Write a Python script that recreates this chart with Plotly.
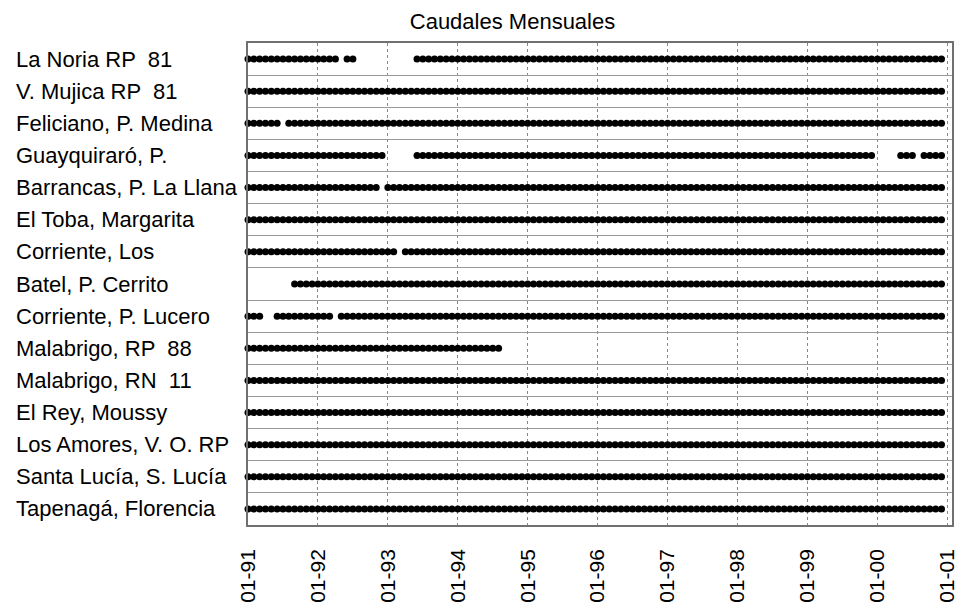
import plotly.graph_objects as go

# Stations (top to bottom)
stations = [
    "La Noria RP  81",
    "V. Mujica RP  81",
    "Feliciano, P. Medina",
    "Guayquiraró, P.",
    "Barrancas, P. La Llana",
    "El Toba, Margarita",
    "Corriente, Los",
    "Batel, P. Cerrito",
    "Corriente, P. Lucero",
    "Malabrigo, RP  88",
    "Malabrigo, RN  11",
    "El Rey, Moussy",
    "Los Amores, V. O. RP",
    "Santa Lucía, S. Lucía",
    "Tapenagá, Florencia",
]

# Months with data, as (first, last) month-index ranges; 0 = Jan 1991, 119 = Dec 2000
periods = [
    [(0, 15), (17, 18), (29, 119)],
    [(0, 119)],
    [(0, 5), (7, 119)],
    [(0, 23), (29, 107), (112, 114), (116, 119)],
    [(0, 22), (24, 119)],
    [(0, 119)],
    [(0, 25), (27, 119)],
    [(8, 119)],
    [(0, 2), (5, 14), (16, 119)],
    [(0, 43)],
    [(0, 119)],
    [(0, 119)],
    [(0, 119)],
    [(0, 119)],
    [(0, 119)],
]

tick_months = [0, 12, 24, 36, 48, 60, 72, 84, 96, 108, 120]
tick_labels = ["01-91", "01-92", "01-93", "01-94", "01-95", "01-96",
               "01-97", "01-98", "01-99", "01-00", "01-01"]

FONT = "Liberation Sans, Arial, sans-serif"

xs, ys = [], []
for i, segs in enumerate(periods):
    for a, b in segs:
        for m in range(a, b + 1):
            xs.append(m)
            ys.append(i)

fig = go.Figure()
fig.add_trace(go.Scatter(
    x=xs, y=ys, mode="markers",
    marker=dict(size=7, color="black", line=dict(width=0)),
    cliponaxis=False, showlegend=False, hoverinfo="skip",
))

for i, name in enumerate(stations):
    fig.add_annotation(
        x=-0.3324, xref="paper", y=i, yref="y", text=name,
        xanchor="left", yanchor="middle", showarrow=False,
        font=dict(family=FONT, size=22, color="black"),
    )

# page body has an 8px margin, so the figure is sized to end at the window edge
W, H = 956, 601
fig.update_layout(
    width=W, height=H,
    margin=dict(l=240, r=6, t=35, b=83),
    paper_bgcolor="white", plot_bgcolor="white",
    title=dict(text="Caudales Mensuales", x=504.5 / W, xanchor="center",
               xref="container", y=1 - 13 / H, yanchor="middle",
               font=dict(family=FONT, size=22, color="black")),
    font=dict(family=FONT, color="black"),
)

fig.update_xaxes(
    range=[0, 120.8], tickmode="array", tickvals=tick_months, ticktext=tick_labels,
    tickangle=-90, tickfont=dict(family=FONT, size=21, color="black"),
    showgrid=True, gridcolor="#888888", griddash="3px,3px", gridwidth=1,
    ticks="outside", ticklen=14, tickcolor="rgba(0,0,0,0)",
    showline=True, linecolor="#707070", linewidth=1.5, mirror=True,
    zeroline=False,
)
fig.update_yaxes(
    range=[14.5, -0.5], tickmode="array",
    tickvals=[k + 0.5 for k in range(len(stations) - 1)],
    showticklabels=False, showgrid=True, gridcolor="#9a9a9a", gridwidth=1,
    showline=True, linecolor="#707070", linewidth=1.5, mirror=True,
    zeroline=False,
)

fig.write_html("out.html")
